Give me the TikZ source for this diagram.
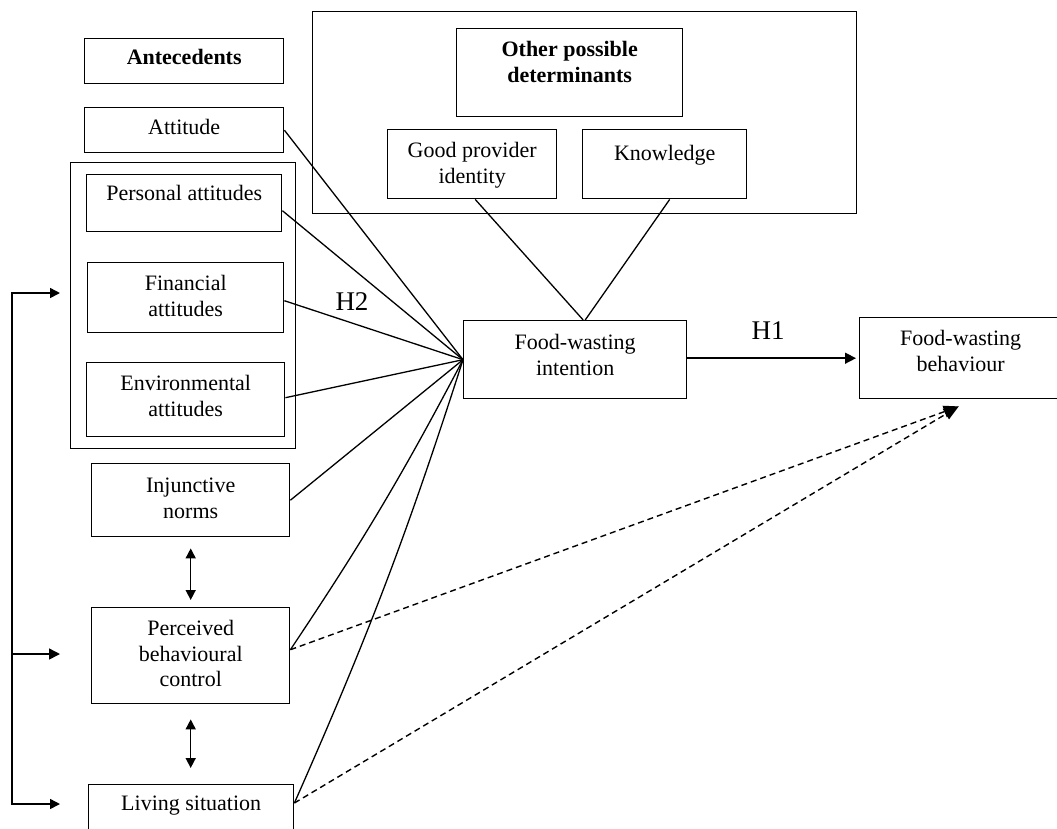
\documentclass[tikz,border=0pt]{standalone}
\usepackage{fontspec}
\setmainfont{Liberation Serif}
\usetikzlibrary{arrows.meta,calc}
\newcommand\bxt[4]{\parbox[t][#2][t]{#1}{\centering\vspace*{#3}\strut #4\par}}
\begin{document}
\begin{tikzpicture}[x=1pt,y=-1pt,
  font={\fontsize{22}{25.5}\selectfont},
  box/.style={draw, line width=1.4pt, inner sep=0pt, anchor=north west},
  ln/.style={line width=1.3pt},
  arr/.style={line width=1.5pt, -{Triangle[length=11pt,width=11pt]}},
  dbl/.style={line width=1.5pt, {Triangle[length=10pt,width=10pt]}-{Triangle[length=10pt,width=10pt]}},
  dsh/.style={line width=1.4pt, dash pattern=on 6pt off 4pt, -{Triangle[length=15pt,width=12pt]}},
  hlab/.style={font={\fontsize{27}{30}\selectfont}, inner sep=0pt}]
\useasboundingbox (0,0) rectangle (1057,828);
% left column
\node[box] (ante) at (84,38) {\bxt{199pt}{45pt}{8pt}{\textbf{Antecedents}}};
\node[box] (att) at (84,107) {\bxt{199pt}{45pt}{9pt}{Attitude}};
\node[box, minimum width=225pt, minimum height=286pt] (grp) at (70,162) {};
\node[box] (pers) at (86,174) {\bxt{195pt}{57pt}{8pt}{Personal attitudes}};
\node[box] (fin) at (87,262) {\bxt{196pt}{70pt}{10pt}{Financial\\attitudes}};
\node[box] (env) at (86,362) {\bxt{198pt}{74pt}{10pt}{Environmental\\attitudes}};
\node[box] (inj) at (91,463) {\bxt{198pt}{73pt}{11pt}{Injunctive\\norms}};
\node[box] (pbc) at (91,607) {\bxt{198pt}{96pt}{10pt}{Perceived\\behavioural\\control}};
\node[box] (ls) at (88,784) {\bxt{205pt}{60pt}{8pt}{Living situation}};
% top group
\node[box, minimum width=544pt, minimum height=202pt] (oth) at (312,11) {};
\node[box] (opd) at (456,28) {\bxt{226pt}{88pt}{10pt}{\textbf{Other possible}\\\textbf{determinants}}};
\node[box] (gp) at (387,129) {\bxt{169pt}{69pt}{10pt}{Good provider\\identity}};
\node[box] (kn) at (582,129) {\bxt{164pt}{69pt}{13pt}{Knowledge}};
% centre and right
\node[box] (int) at (463,320) {\bxt{223pt}{78pt}{11pt}{Food-wasting\\intention}};
\node[box] (beh) at (859,317) {\bxt{202pt}{81pt}{10pt}{Food-wasting\\behaviour}};
% labels
\node[hlab] (h1lab) at (768,331) {H1};
\node[hlab] (h2lab) at (352,302) {H2};
% lines into intention
\draw[ln] (att.east) -- (int.west);
\draw[ln] ([yshift=-7.5pt]pers.east) -- (int.west);
\draw[ln] ([yshift=-3pt]fin.east) -- (int.west);
\draw[ln] ([yshift=2pt]env.east) -- (int.west);
\draw[ln] (inj.east) -- (int.west);
\draw[ln] (int.west) to[bend left=3] ([yshift=6pt]pbc.east);
\draw[ln] (int.west) to[bend left=3] ([yshift=-19pt]ls.north east);
\draw[ln] ([xshift=3pt]gp.south) -- ([xshift=8pt]int.north);
\draw[ln] ([xshift=5pt]kn.south) -- ([xshift=10pt]int.north);
% H1 arrow
\coordinate (h1s) at ([yshift=1.5pt]int.east);
\draw[arr, shorten >=3pt] (h1s) -- (h1s -| beh.west);
% dashed arrows
\coordinate (bt) at ([xshift=-2pt,yshift=-7pt]beh.south);
\draw[dsh] ([yshift=6pt]pbc.east) -- (bt);
\draw[dsh] ([yshift=-19pt]ls.north east) -- (bt);
% double arrows
\draw[dbl, shorten <=11pt, shorten >=7pt] (inj.south) -- (inj.south |- pbc.north);
\draw[dbl, shorten <=15pt, shorten >=16pt] (pbc.south) -- (pbc.south |- ls.north);
% left bracket
\coordinate (b1) at (12,293);
\coordinate (b2) at (12,654);
\coordinate (b3) at (12,804);
\draw[dbl] ($(grp.west |- b1)+(-10,0)$) -- (b1) -- (b3) -- ($(ls.west |- b3)+(-28,0)$);
\draw[arr] (b2) -- ($(pbc.west |- b2)+(-31,0)$);
\end{tikzpicture}
\end{document}
